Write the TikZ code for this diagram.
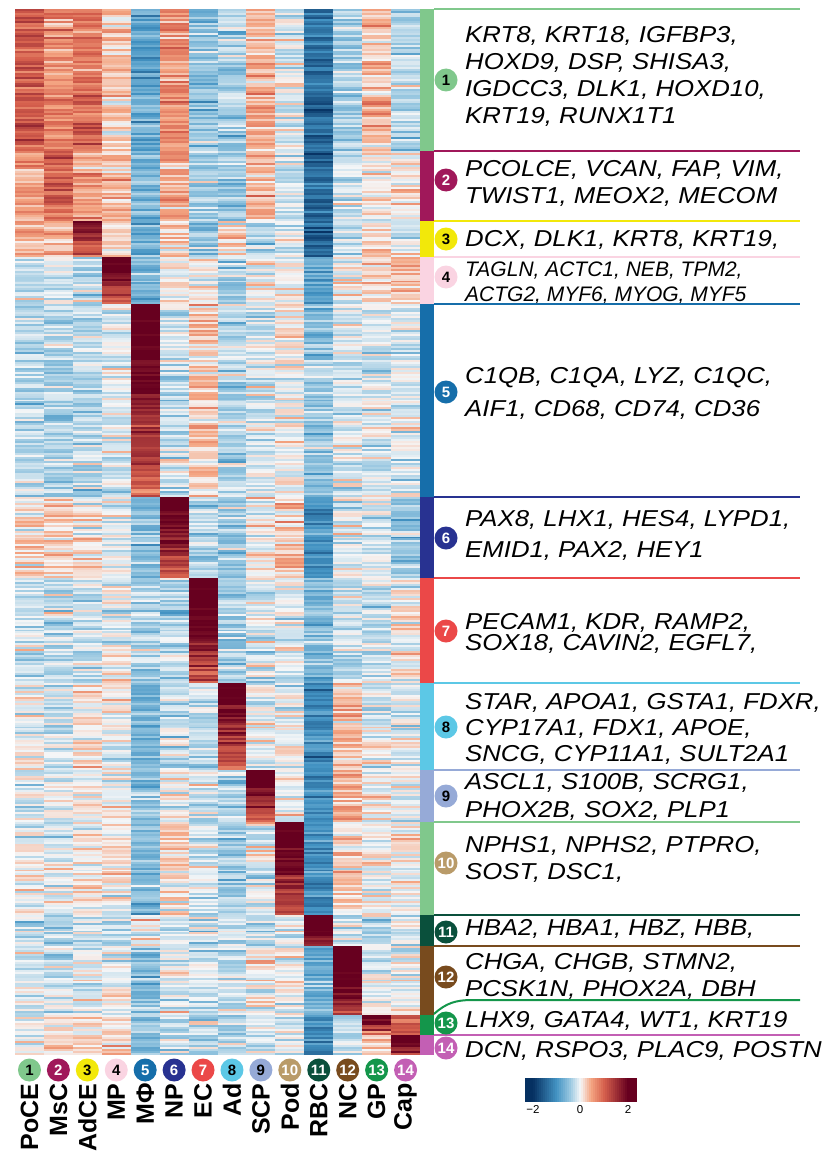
\documentclass[tikz,border=0pt]{standalone}
\usepackage{fontspec}
\setmainfont{Liberation Sans}
\newfontfamily\genefont[FakeStretch=1.12]{Liberation Sans}
\usepackage{xcolor}
\usetikzlibrary{positioning}
% cluster colours
\definecolor{clA}{RGB}{128,200,140}
\definecolor{clB}{RGB}{160,24,90}
\definecolor{clC}{RGB}{242,232,10}
\definecolor{clD}{RGB}{250,212,226}
\definecolor{clE}{RGB}{22,110,170}
\definecolor{clF}{RGB}{40,50,145}
\definecolor{clG}{RGB}{235,72,72}
\definecolor{clH}{RGB}{92,200,230}
\definecolor{clI}{RGB}{150,170,215}
\definecolor{clJ}{RGB}{185,155,105}
\definecolor{clK}{RGB}{10,80,60}
\definecolor{clL}{RGB}{120,75,30}
\definecolor{clM}{RGB}{20,150,75}
\definecolor{clN}{RGB}{195,95,180}
% heat scale
\definecolor{hmDB}{RGB}{5,48,97}
\definecolor{hmMB}{RGB}{67,147,195}
\definecolor{hmLB}{RGB}{150,198,224}
\definecolor{hmW}{RGB}{245,246,247}
\definecolor{hmLR}{RGB}{244,165,130}
\definecolor{hmMR}{RGB}{214,96,77}
\definecolor{hmDR}{RGB}{103,0,31}
\newcommand{\heatset}[1]{%
  \pgfmathsetmacro{\hv}{max(-2,min(2,#1))}%
  \ifdim\hv pt<-1pt
    \pgfmathsetmacro{\hp}{(\hv+2)*100}\colorlet{hc}{hmMB!\hp!hmDB}%
  \else\ifdim\hv pt<-0.45pt
    \pgfmathsetmacro{\hp}{(\hv+1)/0.55*100}\colorlet{hc}{hmLB!\hp!hmMB}%
  \else\ifdim\hv pt<0pt
    \pgfmathsetmacro{\hp}{(\hv+0.45)/0.45*100}\colorlet{hc}{hmW!\hp!hmLB}%
  \else\ifdim\hv pt<0.45pt
    \pgfmathsetmacro{\hp}{\hv/0.45*100}\colorlet{hc}{hmLR!\hp!hmW}%
  \else\ifdim\hv pt<1pt
    \pgfmathsetmacro{\hp}{(\hv-0.45)/0.55*100}\colorlet{hc}{hmMR!\hp!hmLR}%
  \else
    \pgfmathsetmacro{\hp}{(\hv-1)*100}\colorlet{hc}{hmDR!\hp!hmMR}%
  \fi\fi\fi\fi\fi}

\begin{document}
\begin{tikzpicture}[x=1pt,y=-1pt,
  numdot/.style={circle,minimum size=23pt,inner sep=0pt,font=\bfseries\fontsize{15}{15}\selectfont},
  collab/.style={rotate=90,anchor=east,inner sep=0pt,font=\bfseries\fontsize{25}{25}\selectfont},
  genes/.style={anchor=north west,inner sep=0pt,align=left,font=\genefont\itshape\fontsize{23}{#1}\selectfont},
  genes/.default=27,
  band/.style={line width=2.6pt}
]
  \useasboundingbox (0,0) rectangle (833,1153);

  % heatmap, one block per cluster
  \pgfmathsetseed{4242}
  \foreach \ctop/\cbot/\own/\means in {
    9/151/0/{1.1,0.7,0.85,0.2,-0.8,0.6,-0.5,-0.4,0.4,-0.1,-1.4,-0.4,0.3,-0.3},
    151/221/0/{0.5,1.0,0.4,0.35,-0.7,0.5,-0.4,-0.5,0.4,-0.2,-1.4,-0.2,0.1,0.1},
    221/257/3/{0.5,0.3,2.2,0.2,-0.8,0.3,-0.5,0.2,-0.3,0,-1.5,-0.2,0.2,-0.1},
    257/304/4/{-0.25,-0.15,-0.3,2.5,-0.6,0,0,-0.4,0,0,-0.9,-0.1,0.1,0.4},
    304/497/5/{-0.3,-0.3,-0.3,-0.15,2.5,-0.2,0.25,-0.3,-0.15,0.05,-0.5,-0.15,-0.15,-0.15},
    497/578/6/{0.2,0.2,0.1,-0.1,-0.6,2.5,-0.3,-0.4,0,0.3,-1.0,-0.1,-0.1,-0.4},
    578/683/7/{-0.25,-0.25,-0.2,-0.05,-0.3,-0.3,2.6,-0.4,-0.15,-0.1,-0.6,-0.15,-0.2,0},
    683/770/8/{0,-0.2,0.1,-0.1,-0.6,-0.2,-0.2,2.5,-0.1,0,-1.1,0.35,-0.1,-0.1},
    770/822/9/{-0.1,-0.1,0,0,-0.5,-0.1,-0.2,-0.3,2.5,0,-1.0,0.35,0,-0.1},
    822/915/10/{0,-0.1,0.1,0,-0.6,0.2,-0.2,-0.4,-0.1,2.6,-1.1,0.2,0,0},
    915/946/11/{-0.3,-0.3,-0.3,-0.2,0.1,-0.2,-0.2,-0.2,-0.2,0,3.0,-0.1,-0.2,-0.1},
    946/1015/12/{-0.15,-0.2,-0.1,0,-0.5,-0.1,-0.2,-0.2,0,0,-0.7,2.9,-0.1,-0.1},
    1015/1035/13/{0.1,0.1,0,0.2,-0.6,-0.3,-0.3,-0.3,-0.2,-0.2,-1.0,-0.2,2.4,1.0},
    1035/1055/14/{0.1,0.1,0.2,0.3,-0.6,-0.4,-0.4,-0.3,-0.3,0,-1.0,-0.2,0.4,2.8}}{
    \pgfmathtruncatemacro{\nrow}{round((\cbot-\ctop)/2)}
    \pgfmathsetmacro{\rh}{(\cbot-\ctop)/\nrow}
    \foreach \r in {1,...,\nrow}{
      \pgfmathsetmacro{\ya}{\ctop+(\r-1)*\rh}
      \pgfmathsetmacro{\yb}{\ya+\rh+0.4}
      \foreach \m [count=\j] in \means {
        \pgfmathsetmacro{\rr}{rand}
        \pgfmathsetmacro{\hval}{\m+0.28*rand+0.45*\rr*\rr*\rr-(\j==\own)*1.5*\r/\nrow}
        \heatset{\hval}
        \fill[hc] ({15+(\j-1)*28.93},\ya) rectangle ({15.3+\j*28.93},\yb);
      }
    }
  }

  % gene lists
  \node[genes] (gl1) at (465,26.6) {KRT8, KRT18, IGFBP3,\\HOXD9, DSP, SHISA3,\\IGDCC3, DLK1, HOXD10,\\KRT19, RUNX1T1};
  \node[genes] (gl2) at (465,160.6) {PCOLCE, VCAN, FAP, VIM,\\TWIST1, MEOX2, MECOM};
  \node[genes] (gl3) at (465,230.6) {DCX, DLK1, KRT8, KRT19,};
  \node[genes,font=\itshape\fontsize{21}{25}\selectfont] (gl4) at (465,262) {TAGLN, ACTC1, NEB, TPM2,\\ACTG2, MYF6, MYOG, MYF5};
  \node[genes=33] (gl5) at (465,367.6) {C1QB, C1QA, LYZ, C1QC,\\AIF1, CD68, CD74, CD36};
  \node[genes=31] (gl6) at (465,510.6) {PAX8, LHX1, HES4, LYPD1,\\EMID1, PAX2, HEY1};
  \node[genes=21] (gl7) at (465,613.6) {PECAM1, KDR, RAMP2,\\SOX18, CAVIN2, EGFL7,};
  \node[genes=26] (gl8) at (465,693.6) {STAR, APOA1, GSTA1, FDXR,\\CYP17A1, FDX1, APOE,\\SNCG, CYP11A1, SULT2A1};
  \node[genes=27.5] (gl9) at (465,773.6) {ASCL1, S100B, SCRG1,\\PHOX2B, SOX2, PLP1};
  \node[genes] (gl10) at (465,836.6) {NPHS1, NPHS2, PTPRO,\\SOST, DSC1,};
  \node[genes] (gl11) at (465,919.6) {HBA2, HBA1, HBZ, HBB,};
  \node[genes] (gl12) at (465,953.6) {CHGA, CHGB, STMN2,\\PCSK1N, PHOX2A, DBH};
  \node[genes] (gl13) at (465,1011.6) {LHX9, GATA4, WT1, KRT19};
  \node[genes] (gl14) at (465,1041.6) {DCN, RSPO3, PLAC9, POSTN};

  % cluster bars and separators
  \foreach \ya/\yb/\barc in {9/151/clA,151/221/clB,221/257/clC,257/304/clD,304/497/clE,
      497/578/clF,578/683/clG,683/770/clH,770/822/clI,822/915/clA,915/946/clK,
      946/1015/clL,1035/1055/clN}{
    \fill[\barc] (420,\ya) rectangle (434,\yb);
    \draw[band,\barc] (434,\ya) -- (800,\ya);
  }
  \fill[clM] (420,1015) rectangle (434,1035);
  \coordinate (kinkA) at (434,1014);
  \coordinate (kinkB) at (472,1000);
  \coordinate (kinkC) at (800,1000);
  \draw[band,line width=2pt,clM] (kinkA) .. controls (446,1003) and (456,1000) .. (kinkB) -- (kinkC);

  % numbered dots at the side
  \foreach \i/\cy/\dotc/\txtc in {1/80/clA/black,2/180/clB/white,3/239/clC/black,
      4/277/clD/black,5/392/clE/white,6/538/clF/white,7/631/clG/white,8/727/clH/black,
      9/796/clI/black,10/863/clJ/white,11/932/clK/white,12/977/clL/white,
      13/1023/clM/white,14/1048/clN/white}{
    \node[numdot,fill=\dotc,text=\txtc] (rd\i) at (446,\cy) {\i};
  }

  % column dots and names
  \foreach \lab/\dotc/\txtc [count=\i] in {PoCE/clA/black,MsC/clB/white,AdCE/clC/black,
      MP/clD/black,MΦ/clE/white,NP/clF/white,EC/clG/white,Ad/clH/black,SCP/clI/black,
      Pod/clJ/white,RBC/clK/white,NC/clL/white,GP/clM/white,Cap/clN/white}{
    \node[numdot,fill=\dotc,text=\txtc] (cd\i) at ({15+(\i-0.5)*28.93},1070) {\i};
    \node[collab] (cn\i) at ([yshift=-1.5pt]cd\i.south) {\lab};
  }

  % colour key
  \foreach \k in {0,...,55}{
    \pgfmathsetmacro{\cv}{(526+2*\k-580.5)/23.75}
    \heatset{\cv}
    \fill[hc] ({525+2*\k},1078) rectangle ({527.4+2*\k},1102);
  }
  \node[font=\fontsize{11.5}{12}\selectfont] (kLo) at (533,1109.5) {−2};
  \node[font=\fontsize{11.5}{12}\selectfont] (kMid) at (580,1109.5) {0};
  \node[font=\fontsize{11.5}{12}\selectfont] (kHi) at (628,1109.5) {2};
\end{tikzpicture}
\end{document}
